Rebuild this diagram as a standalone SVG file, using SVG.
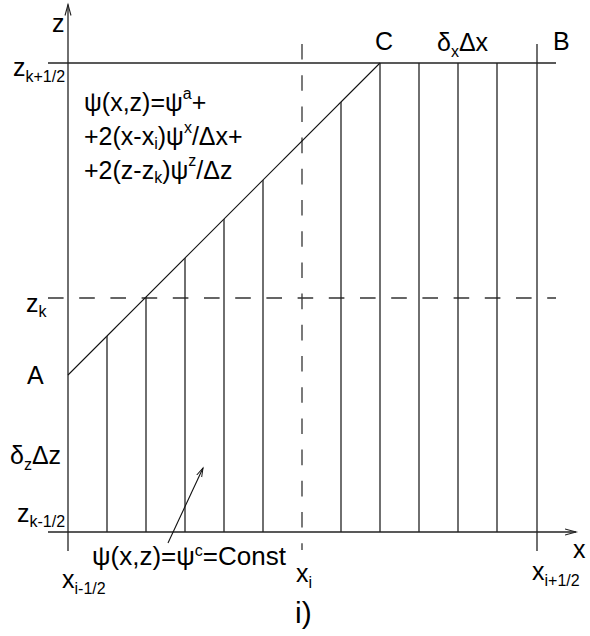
<svg xmlns="http://www.w3.org/2000/svg" width="590" height="636" viewBox="0 0 590 636">
<style>
text{font-family:"Liberation Sans",Arial,sans-serif;font-size:25px;fill:#000}
.s{font-size:16px}
.ln{stroke:#222;stroke-width:1.3;fill:none}
.dash{stroke:#333;stroke-width:1.3;fill:none;stroke-dasharray:15.6 15.6}
.thin{stroke:#111;stroke-width:1.1;fill:none}
</style>
<defs>
<marker id="arr" markerUnits="userSpaceOnUse" markerWidth="14" markerHeight="10" refX="11" refY="4" orient="auto">
<path d="M0,1 L11,4 L0,7" fill="none" stroke="#222" stroke-width="1.1"/>
</marker>
<marker id="arrS" markerUnits="userSpaceOnUse" markerWidth="12" markerHeight="8" refX="9" refY="4" orient="auto">
<path d="M0,1.3 L9,4 L0,6.7" fill="none" stroke="#111" stroke-width="1"/>
</marker>
</defs>
<rect width="590" height="636" fill="#fff"/>
<g id="connectors">
<g id="axes">
<line class="ln" x1="68" y1="551" x2="68" y2="4.5" marker-end="url(#arr)"/>
<line class="ln" x1="48" y1="532" x2="576" y2="532" marker-end="url(#arr)"/>
</g>
<g id="frame">
<line class="ln" x1="48" y1="63" x2="556" y2="63"/>
<line class="ln" x1="537" y1="44" x2="537" y2="551"/>
<line class="dash" x1="302" y1="44" x2="302" y2="550"/>
<line class="dash" x1="48" y1="298" x2="556" y2="298"/>
<line class="thin" x1="68" y1="375" x2="380" y2="63"/>
</g>
<g id="hatch">
<line class="ln" x1="107" y1="336" x2="107" y2="532"/>
<line class="ln" x1="146" y1="297" x2="146" y2="532"/>
<line class="ln" x1="185" y1="258" x2="185" y2="532"/>
<line class="ln" x1="224" y1="219" x2="224" y2="532"/>
<line class="ln" x1="263" y1="180" x2="263" y2="532"/>
<line class="ln" x1="341" y1="102" x2="341" y2="532"/>
<line class="ln" x1="380" y1="63" x2="380" y2="532"/>
<line class="ln" x1="419" y1="63" x2="419" y2="532"/>
<line class="ln" x1="458" y1="63" x2="458" y2="532"/>
<line class="ln" x1="497" y1="63" x2="497" y2="532"/>
</g>
<line id="pointer" class="thin" x1="168" y1="543" x2="203" y2="468" marker-end="url(#arrS)"/>
</g>
<g id="label-z"><text x="52" y="32">z</text></g>
<g id="label-zk12p"><text x="13" y="76">z<tspan class="s" dy="6">k+1/2</tspan></text></g>
<g id="label-zk"><text x="26" y="312">z<tspan class="s" dy="5">k</tspan></text></g>
<g id="label-zk12m"><text x="17" y="522">z<tspan class="s" dy="5">k-1/2</tspan></text></g>
<g id="point-A"><text x="27" y="384">A</text></g>
<g id="point-B"><text x="553" y="50">B</text></g>
<g id="point-C"><text x="375" y="50">C</text></g>
<g id="label-dxdx"><text x="437" y="51">δ<tspan class="s" dy="6">x</tspan><tspan dy="-6">Δx</tspan></text></g>
<g id="label-dzdz"><text x="10" y="464">δ<tspan class="s" dy="6">z</tspan><tspan dy="-6">Δz</tspan></text></g>
<g id="formula">
<text x="84" y="111">ψ(x,z)=ψ<tspan class="s" dy="-12">a</tspan><tspan dy="12">+</tspan></text>
<text x="84" y="145">+2(x-x<tspan class="s" dy="4">i</tspan><tspan dy="-4">)ψ</tspan><tspan class="s" dy="-12">x</tspan><tspan dy="12">/Δx+</tspan></text>
<text x="84" y="179">+2(z-z<tspan class="s" dy="4">k</tspan><tspan dy="-4">)ψ</tspan><tspan class="s" dy="-13">z</tspan><tspan dy="13">/Δz</tspan></text>
</g>
<g id="const-label"><text x="92" y="565" style="font-size:26px">ψ(x,z)=ψ<tspan class="s" dy="-9">c</tspan><tspan dy="9">=Const</tspan></text></g>
<g id="label-xim"><text x="62" y="588">x<tspan class="s" dy="6">i-1/2</tspan></text></g>
<g id="label-xi"><text x="296" y="582">x<tspan class="s" dy="6">i</tspan></text></g>
<g id="label-xip"><text x="532" y="580">x<tspan class="s" dy="6">i+1/2</tspan></text></g>
<g id="label-x"><text x="573" y="558">x</text></g>
<g id="caption"><text x="295" y="623" style="font-size:30px">i)</text></g>
</svg>
